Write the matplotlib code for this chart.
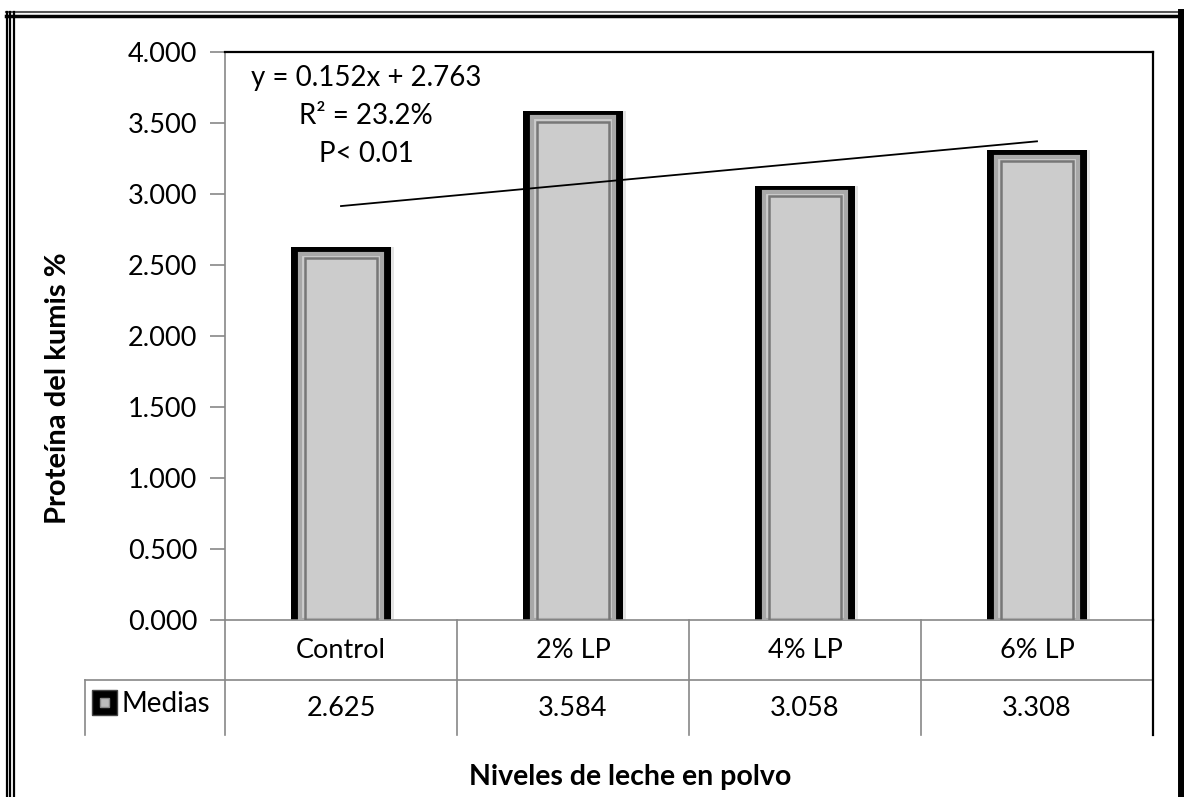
import numpy as np
import matplotlib.pyplot as plt
from matplotlib.lines import Line2D

categorias = ['Control', '2% LP', '4% LP', '6% LP']
medias = [2.625, 3.584, 3.058, 3.308]
etiquetas_medias = ['2.625', '3.584', '3.058', '3.308']
yticks = [0.0, 0.5, 1.0, 1.5, 2.0, 2.5, 3.0, 3.5, 4.0]
pendiente = 0.152
intercepto = 2.763

plt.rcParams['font.family'] = ['Lato', 'DejaVu Sans']

W, H = 1184, 797
fig = plt.figure(figsize=(W / 100, H / 100), dpi=100)

def fx(px):
    return px / W

def fy(py):
    return 1 - py / H

ax = fig.add_axes([fx(225), fy(620), fx(1153) - fx(225), fy(52) - fy(620)])
x = np.arange(len(categorias))

# barras: borde negro, franja gris, relleno gris claro
ax.bar(x + 0.015, medias, width=0.43, color='#e4e4e4', zorder=1)
ax.bar(x, medias, width=0.43, color='black', zorder=2)
ax.bar(x, np.array(medias) - 0.045, width=0.35, color='#cccccc',
       edgecolor='#a8a8a8', linewidth=3, zorder=3)
ax.bar(x, np.array(medias) - 0.075, width=0.31, color='none',
       edgecolor='#777777', linewidth=1.8, zorder=4)

# linea de tendencia
xt = np.array([1, len(categorias)])
ax.plot(xt - 1, pendiente * xt + intercepto, color='black', lw=1.3, zorder=5)

ax.set_xlim(-0.5, len(categorias) - 0.5)
ax.set_ylim(0, 4.0)
ax.set_yticks(yticks)
ax.set_yticklabels([f'{v:.3f}' for v in yticks], fontsize=19.5)
ax.set_xticks([])
ax.tick_params(axis='y', length=11, width=1.2, color='#888888', pad=9)
for s in ['top', 'right']:
    ax.spines[s].set_color('black')
    ax.spines[s].set_linewidth(1.6)
ax.spines['left'].set_color('#888888')
ax.spines['bottom'].set_color('#888888')
ax.spines['left'].set_linewidth(1.2)
ax.spines['bottom'].set_linewidth(1.2)

ax.text(0.152, 0.955, 'y = 0.152x + 2.763', transform=ax.transAxes,
        ha='center', va='center', fontsize=20)
ax.text(0.152, 0.888, 'R² = 23.2%', transform=ax.transAxes,
        ha='center', va='center', fontsize=20)
ax.text(0.152, 0.82, 'P< 0.01', transform=ax.transAxes,
        ha='center', va='center', fontsize=20)

# tabla de datos bajo el eje
gris = '#888888'
def linea(x0, y0, x1, y1, **kw):
    fig.add_artist(Line2D([fx(x0), fx(x1)], [fy(y0), fy(y1)],
                          transform=fig.transFigure, **kw))

bordes = [225, 457, 689, 921, 1153]
for b in bordes:
    linea(b, 620, b, 735, color=gris, lw=1.2)
linea(85, 680, 1153, 680, color=gris, lw=1.2)
linea(85, 680, 85, 735, color=gris, lw=1.2)
linea(1153, 620, 1153, 735, color='black', lw=1.6)

for i, (c, v) in enumerate(zip(categorias, etiquetas_medias)):
    cx = (bordes[i] + bordes[i + 1]) / 2
    fig.text(fx(cx), fy(650), c, ha='center', va='center', fontsize=19.5)
    fig.text(fx(cx), fy(708), v, ha='center', va='center', fontsize=19.5)

# clave de leyenda
fig.patches.append(plt.Rectangle((fx(92), fy(715)), fx(25), fy(690) - fy(715),
                                 transform=fig.transFigure, facecolor='black',
                                 edgecolor='#444444', linewidth=1))
fig.patches.append(plt.Rectangle((fx(100), fy(707)), fx(9), fy(698) - fy(707),
                                 transform=fig.transFigure, facecolor='#bbbbbb',
                                 edgecolor='#888888', linewidth=1))
fig.text(fx(121), fy(704), 'Medias', ha='left', va='center', fontsize=20)

fig.text(fx(630), fy(777), 'Niveles de leche en polvo', ha='center', va='center',
         fontsize=20.5, fontweight='bold')
fig.text(fx(58), fy(388), 'Proteína del kumis %', ha='center', va='center',
         rotation=90, fontsize=21, fontweight='bold')

# marco exterior
linea(6, 12, 1184, 12, color='#555555', lw=1.5)
linea(6, 16, 1184, 16, color='black', lw=2.5)
for xx in [6.5, 10, 13.5]:
    linea(xx, 12, xx, 797, color='black', lw=1.6)
linea(1181, 12, 1181, 797, color='black', lw=5)

fig.savefig('out.png', dpi=100)
